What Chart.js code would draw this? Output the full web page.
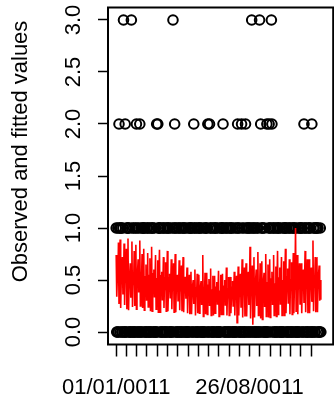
<!DOCTYPE html>
<html>
<head>
<meta charset="utf-8">
<script src="https://cdn.jsdelivr.net/npm/chart.js@4/dist/chart.umd.min.js"></script>
<style>
  html, body { margin: 0; padding: 0; background: #fff; }
  #wrap { width: 334px; height: 406px; position: relative; }
</style>
</head>
<body>
<div id="wrap"><canvas id="fitChart"></canvas></div>
<script>
// Daily observed counts, one row per week (day 1..365)
const observed = [
    1,0,0,1,0,2,1,  0,1,1,0,0,1,3,  0,0,2,0,0,1,1,  1,0,1,0,0,0,3,
    1,0,0,1,0,0,1,  0,2,1,0,0,1,0,  2,0,1,0,0,1,1,  1,0,1,0,0,0,1,
    1,0,0,1,0,0,1,  0,1,1,0,0,1,0,  0,0,2,0,2,1,1,  1,0,1,0,0,0,1,
    1,0,0,1,0,0,1,  0,1,1,0,0,1,0,  0,0,1,3,0,1,2,  1,0,1,0,0,0,1,
    1,0,0,1,0,0,1,  0,1,1,0,0,1,0,  0,0,1,0,0,1,1,  1,0,1,0,0,2,1,
    1,0,0,1,0,0,1,  0,1,1,0,0,1,0,  0,0,1,0,0,1,1,  1,0,2,0,0,2,1,
    1,0,0,1,0,0,1,  0,1,1,0,0,1,0,  0,0,1,0,0,1,1,  1,2,1,0,0,0,1,
    1,0,0,1,0,0,1,  0,1,1,0,0,1,0,  0,0,1,0,0,1,2,  1,0,1,0,0,0,2,
    1,0,0,1,0,0,2,  0,1,1,0,0,1,1,  0,0,1,3,0,1,0,  1,0,1,0,0,0,1,
    1,0,0,3,0,2,1,  0,1,1,0,0,1,0,  0,0,2,0,0,1,2,  1,0,1,3,2,0,1,
    1,0,0,1,0,0,1,  0,1,1,0,0,1,0,  0,0,1,0,0,1,1,  1,0,1,0,0,0,1,
    1,0,0,1,0,0,1,  0,1,1,0,0,1,0,  0,0,1,0,0,1,1,  1,0,1,0,0,2,1,
    1,0,0,1,0,0,1,  0,1,1,0,0,2,0,  0,1,1,0,0,1,1,  1,0,1,0,0,0,1,
    0
];

// Fitted values from the model, same layout
const fitted = [
    0.74,0.34,0.52,0.48,0.86,0.27,0.55,  0.89,0.23,0.50,0.56,0.72,0.36,0.47,
    0.85,0.26,0.58,0.49,0.80,0.22,0.53,  0.90,0.21,0.46,0.55,0.66,0.33,0.60,
    0.87,0.24,0.57,0.45,0.78,0.25,0.50,  0.84,0.22,0.49,0.58,0.70,0.38,0.52,
    0.88,0.25,0.55,0.47,0.75,0.23,0.58,  0.80,0.21,0.47,0.53,0.65,0.30,0.50,
    0.76,0.24,0.55,0.44,0.71,0.20,0.52,  0.82,0.20,0.43,0.56,0.60,0.34,0.48,
    0.74,0.22,0.52,0.42,0.69,0.19,0.55,  0.79,0.19,0.46,0.54,0.58,0.31,0.45,
    0.72,0.23,0.53,0.41,0.67,0.20,0.51,  0.78,0.20,0.42,0.52,0.56,0.33,0.47,
    0.70,0.22,0.50,0.40,0.66,0.19,0.53,  0.75,0.19,0.44,0.51,0.55,0.30,0.43,
    0.69,0.21,0.51,0.39,0.64,0.20,0.49,  0.72,0.19,0.40,0.49,0.53,0.32,0.45,
    0.62,0.18,0.44,0.36,0.55,0.17,0.41,  0.58,0.17,0.37,0.45,0.50,0.27,0.40,
    0.60,0.16,0.43,0.34,0.56,0.18,0.44,  0.55,0.18,0.36,0.44,0.49,0.26,0.38,
    0.74,0.15,0.42,0.33,0.57,0.17,0.43,  0.57,0.17,0.35,0.45,0.51,0.25,0.39,
    0.61,0.16,0.41,0.32,0.54,0.16,0.42,  0.54,0.18,0.34,0.43,0.48,0.27,0.37,
    0.59,0.15,0.40,0.31,0.55,0.17,0.41,  0.56,0.17,0.35,0.44,0.50,0.26,0.38,
    0.62,0.16,0.42,0.33,0.53,0.16,0.43,  0.53,0.18,0.34,0.43,0.49,0.25,0.37,
    0.58,0.16,0.41,0.32,0.54,0.09,0.40,  0.63,0.16,0.40,0.47,0.56,0.24,0.44,
    0.70,0.14,0.46,0.36,0.62,0.15,0.48,  0.66,0.15,0.38,0.49,0.58,0.26,0.42,
    0.82,0.13,0.47,0.37,0.64,0.07,0.45,  0.72,0.14,0.40,0.50,0.60,0.25,0.43,
    0.77,0.16,0.46,0.38,0.66,0.13,0.49,  0.68,0.12,0.41,0.50,0.57,0.24,0.44,
    0.75,0.15,0.48,0.39,0.65,0.14,0.47,  0.70,0.14,0.42,0.51,0.58,0.26,0.45,
    0.74,0.16,0.47,0.40,0.63,0.15,0.48,  0.78,0.17,0.44,0.52,0.62,0.27,0.47,
    0.72,0.16,0.50,0.41,0.68,0.16,0.51,  0.80,0.18,0.43,0.53,0.61,0.28,0.46,
    0.70,0.17,0.51,0.42,0.67,0.17,0.50,  0.76,0.18,0.45,0.52,1.00,0.20,0.48,
    0.74,0.17,0.52,0.43,0.66,0.27,0.49,  0.66,0.18,0.46,0.54,0.60,0.28,0.50,
    0.78,0.19,0.53,0.44,0.70,0.18,0.52,  0.70,0.18,0.47,0.55,0.62,0.29,0.49,
    0.88,0.20,0.54,0.45,0.72,0.19,0.53,  0.72,0.19,0.48,0.56,0.64,0.30,0.50,
    0.31
];

// x ticks every 365/20 days from day 1; only two dates fit as labels
const xTicks = [1, 19.25, 37.5, 55.75, 74, 92.25, 110.5, 128.75, 147, 165.25,
                183.5, 201.75, 220, 238.25, 256.5, 274.75, 293, 311.25, 329.5, 347.75];
const xLabels = ['01/01/0011','','','','','','','','','','','','','26/08/0011','','','','','',''];
const yTicks = [0, 0.5, 1, 1.5, 2, 2.5, 3];
const yTickLabels = ['0.0','0.5','1.0','1.5','2.0','2.5','3.0'];
const yTitle = 'Observed and fitted values';

const FONT = '"Liberation Sans", Arial, Helvetica, sans-serif';

// box + rotated y labels, drawn like base R graphics
const framePlugin = {
    id: 'frame',
    afterDraw(chart) {
        const { ctx, chartArea: a, scales } = chart;
        ctx.save();
        ctx.strokeStyle = '#000';
        ctx.lineWidth = 2;
        ctx.strokeRect(a.left, a.top, a.right + 6 - a.left, a.bottom - a.top);

        ctx.fillStyle = '#000';
        ctx.font = '22px ' + FONT;
        ctx.textAlign = 'center';
        ctx.textBaseline = 'alphabetic';
        yTicks.forEach((v, i) => {
            const py = scales.y.getPixelForValue(v);
            ctx.save();
            ctx.translate(80, py);
            ctx.rotate(-Math.PI / 2);
            ctx.fillText(yTickLabels[i], 0, 0);
            ctx.restore();
        });

        ctx.translate(26.5, 151.5);
        ctx.rotate(-Math.PI / 2);
        ctx.fillText(yTitle, 0, 0);
        ctx.restore();
    }
};

const ctx = document.getElementById('fitChart').getContext('2d');
new Chart(ctx, {
    type: 'scatter',
    data: {
        datasets: [
            {
                type: 'line',
                data: fitted.map((v, i) => ({ x: i + 1, y: v })),
                borderColor: '#ff0000',
                borderWidth: 1.6,
                pointRadius: 0,
                tension: 0,
                fill: false,
                order: 0
            },
            {
                data: observed.map((v, i) => ({ x: i + 1, y: v })),
                pointStyle: 'circle',
                pointRadius: 4.8,
                pointBorderWidth: 2,
                borderColor: '#000',
                backgroundColor: 'rgba(0,0,0,0)',
                order: 1
            }
        ]
    },
    options: {
        responsive: true,
        maintainAspectRatio: false,
        animation: false,
        layout: { padding: { top: 7.5, left: 0, right: 0, bottom: 0 } },
        plugins: {
            legend: { display: false },
            tooltip: { enabled: false }
        },
        scales: {
            x: {
                type: 'linear',
                min: -13.56,
                max: 376.3,
                border: { display: false },
                grid: {
                    drawOnChartArea: false,
                    drawTicks: true,
                    tickLength: 12,
                    tickColor: '#000',
                    tickWidth: 1.5
                },
                afterBuildTicks(scale) {
                    scale.ticks = xTicks.map(v => ({ value: v }));
                },
                ticks: {
                    autoSkip: false,
                    maxRotation: 0,
                    minRotation: 0,
                    padding: 18,
                    color: '#000',
                    font: { family: FONT, size: 22 },
                    callback: (v, idx) => xLabels[idx]
                },
                afterFit(scale) { scale.height = 61.5; }
            },
            y: {
                type: 'linear',
                min: -0.12,
                max: 3.12,
                border: { display: false },
                grid: {
                    drawOnChartArea: false,
                    drawTicks: true,
                    tickLength: 10,
                    tickColor: '#000',
                    tickWidth: 1.5
                },
                afterBuildTicks(scale) {
                    scale.ticks = yTicks.map(v => ({ value: v }));
                },
                ticks: { display: false },
                afterFit(scale) { scale.width = 108; }
            }
        }
    },
    plugins: [framePlugin]
});
</script>
</body>
</html>
